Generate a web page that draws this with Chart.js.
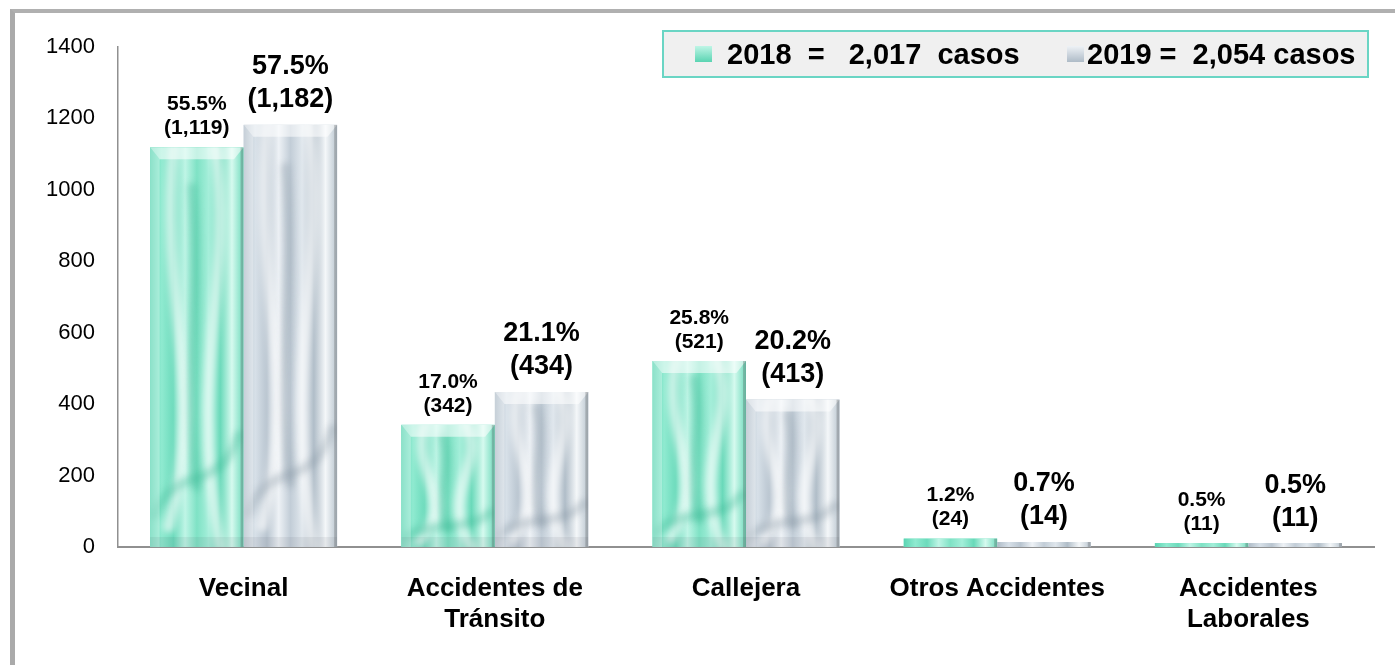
<!DOCTYPE html>
<html>
<head>
<meta charset="utf-8">
<script src="https://cdn.jsdelivr.net/npm/chart.js@4/dist/chart.umd.min.js"></script>
<style>
  html, body { margin: 0; padding: 0; background: #fff; overflow: hidden; }
  #frame {
    position: absolute; left: 10px; top: 9px; width: 1400px; height: 700px;
    border-left: 5px solid #aaaaaa; border-top: 4px solid #b0b0b0;
  }
  #chart { position: absolute; left: 0; top: 0; }
</style>
</head>
<body>
<div id="frame"></div>
<canvas id="chart" width="1395" height="665"></canvas>
<script>
// Data
const categories = ['Vecinal', ['Accidentes de', 'Tránsito'], 'Callejera', 'Otros Accidentes', ['Accidentes', 'Laborales']];
const cases2018 = [1119, 342, 521, 24, 11];
const cases2019 = [1182, 434, 413, 14, 11];
const pct2018 = ['55.5%', '17.0%', '25.8%', '1.2%', '0.5%'];
const pct2019 = ['57.5%', '21.1%', '20.2%', '0.7%', '0.5%'];
const legendTexts = ['2018  =   2,017  casos', '2019 =  2,054 casos'];
const yTicks = [0, 200, 400, 600, 800, 1000, 1200, 1400];

const FONT = '"Liberation Sans", Arial, sans-serif';

// satin-like colour stops for each series
const palettes = [
  { stops: ['#5ad4b2', '#8fead0', '#6cdbbc', '#bff5e6', '#7fe2c5', '#a3eed9', '#68d9b9', '#d6faef', '#6fdabc'], dark: '#2fae8c', base: '#7fe3c6' },
  { stops: ['#aebbc7', '#d7e0e8', '#b9c5d0', '#eef2f6', '#c2cdd7', '#e0e7ed', '#b0bdc8', '#f4f7f9', '#b9c5cf'], dark: '#7d8d9c', base: '#cbd5de' }
];
const labelStyles = [
  { size: 21, gap: 19, lineGap: 24 },
  { size: 27, gap: 25, lineGap: 33 }
];

function paintBar(ctx, left, top, w, h, pal) {
  ctx.save();
  ctx.beginPath();
  ctx.rect(left, top, w, h);
  ctx.clip();
  const g = ctx.createLinearGradient(left, 0, left + w, 0);
  pal.stops.forEach((c, i) => g.addColorStop(i / (pal.stops.length - 1), c));
  ctx.fillStyle = g;
  ctx.fillRect(left, top, w, h);

  if (h > 20) {
    // soft folds
    ctx.lineCap = 'round';
    ctx.filter = 'blur(3px)';
    ctx.strokeStyle = 'rgba(255,255,255,0.6)';
    ctx.lineWidth = w * 0.12;
    ctx.beginPath();
    ctx.moveTo(left + w * 0.25, top);
    ctx.bezierCurveTo(left + w * 0.1, top + h * 0.4, left + w * 0.6, top + h * 0.6, left + w * 0.2, top + h * 0.95);
    ctx.stroke();
    ctx.beginPath();
    ctx.moveTo(left + w * 0.7, top);
    ctx.bezierCurveTo(left + w * 0.9, top + h * 0.35, left + w * 0.4, top + h * 0.55, left + w * 0.75, top + h);
    ctx.stroke();
    ctx.strokeStyle = pal.dark;
    ctx.globalAlpha = 0.3;
    ctx.lineWidth = w * 0.1;
    ctx.beginPath();
    ctx.moveTo(left + w * 0.05, top + h * 0.92);
    ctx.bezierCurveTo(left + w * 0.3, top + h * 0.78, left + w * 0.7, top + h * 0.88, left + w * 0.95, top + h * 0.72);
    ctx.stroke();
    ctx.beginPath();
    ctx.moveTo(left + w * 0.45, top + h * 0.1);
    ctx.bezierCurveTo(left + w * 0.55, top + h * 0.4, left + w * 0.35, top + h * 0.6, left + w * 0.5, top + h * 0.85);
    ctx.stroke();
    ctx.globalAlpha = 1;
    ctx.filter = 'none';

    // bevelled top
    const b = Math.min(12, h / 3);
    ctx.fillStyle = 'rgba(255,255,255,0.55)';
    ctx.beginPath();
    ctx.moveTo(left, top); ctx.lineTo(left + w, top);
    ctx.lineTo(left + w - b * 0.8, top + b); ctx.lineTo(left + b * 0.8, top + b);
    ctx.closePath(); ctx.fill();
    ctx.fillStyle = 'rgba(255,255,255,0.3)';
    ctx.beginPath();
    ctx.moveTo(left, top); ctx.lineTo(left + b * 0.8, top + b);
    ctx.lineTo(left + b * 0.8, top + h); ctx.lineTo(left, top + h);
    ctx.closePath(); ctx.fill();
    // bottom strip
    ctx.fillStyle = 'rgba(60,70,80,0.08)';
    ctx.fillRect(left, top + h - 10, w, 10);
  }
  // right shadow
  ctx.fillStyle = 'rgba(80,80,80,0.28)';
  ctx.fillRect(left + w - 3, top, 3, h);
  ctx.restore();
}

const barDecor = {
  id: 'barDecor',
  afterDatasetsDraw(chart) {
    const { ctx } = chart;
    const pcts = [pct2018, pct2019];
    chart.data.datasets.forEach((ds, di) => {
      const meta = chart.getDatasetMeta(di);
      meta.data.forEach(bar => {
        const left = bar.x - bar.width / 2;
        paintBar(ctx, left, bar.y, bar.width, bar.base - bar.y, palettes[di]);
      });
    });
    chart.data.datasets.forEach((ds, di) => {
      const meta = chart.getDatasetMeta(di);
      const st = labelStyles[di];
      meta.data.forEach((bar, i) => {
        ctx.save();
        ctx.font = 'bold ' + st.size + 'px ' + FONT;
        ctx.fillStyle = '#000';
        ctx.textAlign = 'center';
        ctx.textBaseline = 'middle';
        const yb = bar.y - st.gap;
        ctx.fillText('(' + ds.data[i].toLocaleString('en-US') + ')', bar.x, yb);
        ctx.fillText(pcts[di][i], bar.x, yb - st.lineGap);
        ctx.restore();
      });
    });
  },
  afterDraw(chart) {
    const { ctx } = chart;
    ctx.save();
    // legend box
    ctx.fillStyle = '#f0f0f0';
    ctx.fillRect(663, 31, 705, 46);
    ctx.strokeStyle = '#6ad5c4';
    ctx.lineWidth = 2;
    ctx.strokeRect(663, 31, 705, 46);
    const items = [{ icon: 695, text: 727 }, { icon: 1067, text: 1087 }];
    items.forEach((it, i) => {
      const g = ctx.createLinearGradient(0, 46, 0, 62);
      g.addColorStop(0, palettes[i].stops[3]);
      g.addColorStop(1, palettes[i].stops[0]);
      ctx.fillStyle = g;
      ctx.fillRect(it.icon, 46, 17, 16);
      ctx.font = 'bold 29px ' + FONT;
      ctx.fillStyle = '#000';
      ctx.textBaseline = 'middle';
      ctx.textAlign = 'left';
      ctx.fillText(legendTexts[i], it.text, 56);
    });
    ctx.restore();
  }
};

new Chart(document.getElementById('chart'), {
  type: 'bar',
  data: {
    labels: categories,
    datasets: [
      { label: '2018', data: cases2018, backgroundColor: palettes[0].base, borderWidth: 0 },
      { label: '2019', data: cases2019, backgroundColor: palettes[1].base, borderWidth: 0 }
    ]
  },
  options: {
    responsive: false,
    animation: false,
    devicePixelRatio: 1,
    layout: { padding: { top: 47, right: 21, bottom: 0, left: 0 } },
    plugins: { legend: { display: false }, tooltip: { enabled: false } },
    datasets: { bar: { categoryPercentage: 0.745, barPercentage: 1 } },
    scales: {
      x: {
        grid: { display: false, drawTicks: false },
        border: { display: true, color: '#909090', width: 2 },
        ticks: {
          color: '#000', padding: 26,
          font: { family: FONT, size: 26, weight: 'bold', lineHeight: 1.2 },
          maxRotation: 0, autoSkip: false
        },
        afterFit: s => { s.height = 118; }
      },
      y: {
        min: 0, max: 1400,
        grid: { display: false, drawTicks: false },
        border: { display: true, color: '#909090', width: 1.5 },
        afterBuildTicks: s => { s.ticks = yTicks.map(v => ({ value: v })); },
        ticks: { color: '#000', padding: 23, font: { family: FONT, size: 22 }, callback: v => String(v) },
        afterFit: s => { s.width = 118; }
      }
    }
  },
  plugins: [barDecor]
});
</script>
</body>
</html>
